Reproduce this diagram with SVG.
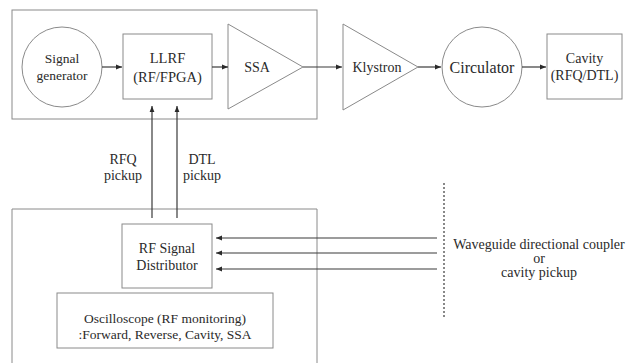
<svg xmlns="http://www.w3.org/2000/svg" width="637" height="363" viewBox="0 0 637 363">
<style>
.box{fill:none;stroke:#8a8a8a;stroke-width:1}
.ln{fill:none;stroke:#3a3a3a;stroke-width:1.2}
text{font-family:'Liberation Serif','DejaVu Serif',serif;fill:#2a2a2a;text-anchor:middle;font-size:14px}
</style>
<defs>
<marker id="ah" viewBox="0 0 10 10" refX="10" refY="5" markerWidth="5" markerHeight="5" orient="auto-start-reverse">
<path d="M0,1 L10,5 L0,9 z" fill="#2a2a2a"/>
</marker>
</defs>
<rect width="637" height="363" fill="#fff"/>
<g font-family="Liberation Serif, DejaVu Serif, serif">
<g id="top-frame"><rect class="box" x="12" y="10" width="305" height="109"/></g>
<g id="bottom-frame"><path class="box" d="M12,370 V209 H317 V370"/></g>
<g id="signal-generator"><circle class="box" cx="62" cy="67" r="40"/>
<text x="62" y="63" style="font-size:13.5px">Signal</text><text x="62" y="80" style="font-size:13.5px">generator</text></g>
<g id="llrf"><rect class="box" x="123" y="34" width="89" height="65"/>
<text x="167.5" y="63" style="font-size:14.5px">LLRF</text><text x="167.5" y="82" style="font-size:14.5px">(RF/FPGA)</text></g>
<g id="ssa"><path class="box" d="M228,24 L303,67 L228,109 Z"/><text x="257" y="72" style="font-size:14px">SSA</text></g>
<g id="klystron"><path class="box" d="M343,24 L418,67 L343,110 Z"/><text x="377" y="72">Klystron</text></g>
<g id="circulator"><circle class="box" cx="482" cy="67" r="40"/><text x="482" y="73" style="font-size:16px">Circulator</text></g>
<g id="cavity"><rect class="box" x="547" y="34" width="75" height="65"/>
<text x="584.5" y="63">Cavity</text><text x="584.5" y="80">(RFQ/DTL)</text></g>
<g id="rf-signal-distributor"><rect class="box" x="122" y="224" width="90" height="64"/>
<text x="167" y="253">RF Signal</text><text x="167" y="270">Distributor</text></g>
<g id="oscilloscope"><rect class="box" x="57" y="293" width="216" height="55"/>
<text x="165" y="323" style="font-size:13.5px">Oscilloscope (RF monitoring)</text><text x="165" y="339" style="font-size:13.5px">:Forward, Reverse, Cavity, SSA</text></g>
<g id="waveguide-label">
<text x="539" y="249">Waveguide directional coupler</text>
<text x="539" y="263">or</text>
<text x="539" y="277">cavity pickup</text></g>
<g id="pickup-labels">
<text x="123" y="164">RFQ</text><text x="123" y="180">pickup</text>
<text x="202" y="164">DTL</text><text x="202" y="180">pickup</text></g>
</g>
<g id="connectors">
<line class="ln" x1="102" y1="67" x2="122" y2="67" marker-end="url(#ah)"/>
<line class="ln" x1="212" y1="67" x2="228" y2="67" marker-end="url(#ah)"/>
<line class="ln" x1="303" y1="67" x2="342" y2="67" marker-end="url(#ah)"/>
<line class="ln" x1="418" y1="67" x2="441" y2="67" marker-end="url(#ah)"/>
<line class="ln" x1="522" y1="67" x2="546" y2="67" marker-end="url(#ah)"/>
<line class="ln" x1="152" y1="218" x2="152" y2="106" marker-end="url(#ah)"/>
<line class="ln" x1="177" y1="218" x2="177" y2="106" marker-end="url(#ah)"/>
<line class="ln" x1="437" y1="238" x2="216" y2="238" marker-end="url(#ah)"/>
<line class="ln" x1="437" y1="253" x2="216" y2="253" marker-end="url(#ah)"/>
<line class="ln" x1="437" y1="269" x2="216" y2="269" marker-end="url(#ah)"/>
<line x1="444" y1="183" x2="444" y2="318" stroke="#3a3a3a" stroke-width="1.2" stroke-dasharray="2,2"/>
</g>
</svg>
